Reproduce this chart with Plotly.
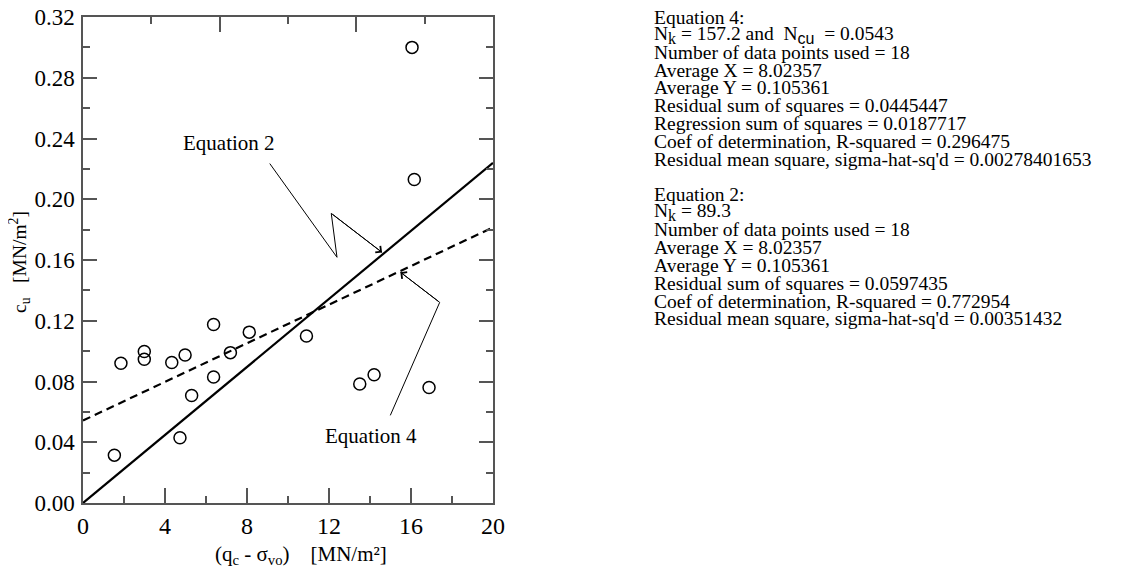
import plotly.graph_objects as go

# ---- data ----
x_vals = [1.53, 1.85, 2.99, 2.99, 4.33, 4.98, 4.73, 5.30, 6.37, 6.37, 7.19, 8.11,
          10.90, 13.50, 14.20, 16.88, 16.05, 16.16]
y_vals = [0.0315, 0.0920, 0.0998, 0.0946, 0.0925, 0.0975, 0.0430, 0.0708, 0.1175,
          0.0830, 0.0990, 0.1125, 0.1100, 0.0783, 0.0845, 0.0760, 0.3000, 0.2130]

eq2_x = [0, 20]
eq2_y = [0.0, 0.224]
eq4_x = [0, 20]
eq4_y = [0.0543, 0.1815]

x_ticks = [0, 4, 8, 12, 16, 20]
y_ticks = [0.00, 0.04, 0.08, 0.12, 0.16, 0.20, 0.24, 0.28, 0.32]

# callout leader lines (data coordinates) and labels
eq2_leader_x = [9.11, 12.39, 12.11]
eq2_leader_y = [0.2235, 0.1618, 0.1907]
eq2_tip = (14.59, 0.1650)
eq2_label = (7.1, 0.2373)

eq4_leader_x = [14.99, 17.40]
eq4_leader_y = [0.0577, 0.1321]
eq4_tip = (15.48, 0.1520)
eq4_label = (14.05, 0.0440)

x_title = "(q<sub>c</sub> - \u03c3<sub>vo</sub>)\u00a0\u00a0\u00a0\u00a0[MN/m\u00b2]"
y_title = "c<sub>u</sub>\u00a0\u00a0\u00a0[MN/m<sup>2</sup>]"

K = "<sub><span style='font-size:16px'>k</span></sub>"
CU = "<sub><span style='font-size:16px;font-family:Liberation Sans'>cu</span></sub>"
stats_lines = [
    "Equation 4:",
    "N" + K + " = 157.2 and \u00a0N" + CU + " \u00a0= 0.0543",
    "Number of data points used = 18",
    "Average X = 8.02357",
    "Average Y = 0.105361",
    "Residual sum of squares = 0.0445447",
    "Regression sum of squares = 0.0187717",
    "Coef of determination, R-squared = 0.296475",
    "Residual mean square, sigma-hat-sq'd = 0.00278401653",
    "",
    "Equation 2:",
    "N" + K + " = 89.3",
    "Number of data points used = 18",
    "Average X = 8.02357",
    "Average Y = 0.105361",
    "Residual sum of squares = 0.0597435",
    "Coef of determination, R-squared = 0.772954",
    "Residual mean square, sigma-hat-sq'd = 0.00351432",
]

# ---- layout geometry (page body has an 8px margin) ----
OFF = 8
W, H = 1146 - 2 * OFF, 575 - 2 * OFF
L, R, T, B = 83 - OFF, 493 - OFF, 17 - OFF, 503 - OFF
SERIF = "Liberation Serif, Times New Roman, serif"
AX = "#555555"


def px_to_paper(px, py):
    """absolute page pixel -> paper coordinates"""
    return (px - OFF - L) / (R - L), (B - (py - OFF)) / (B - T)


fig = go.Figure()

fig.add_trace(go.Scatter(x=eq2_x, y=eq2_y, mode="lines",
                         line=dict(color="black", width=2.2), showlegend=False,
                         hoverinfo="skip"))
fig.add_trace(go.Scatter(x=eq4_x, y=eq4_y, mode="lines",
                         line=dict(color="black", width=2.2, dash="8px,5px"),
                         showlegend=False, hoverinfo="skip"))
fig.add_trace(go.Scatter(x=x_vals, y=y_vals, mode="markers",
                         marker=dict(symbol="circle-open", size=12,
                                     color="black", line=dict(width=1.5)),
                         showlegend=False))
# leader lines
fig.add_trace(go.Scatter(x=eq2_leader_x + [eq2_tip[0]], y=eq2_leader_y + [eq2_tip[1]],
                         mode="lines", line=dict(color="black", width=1),
                         showlegend=False, hoverinfo="skip"))
fig.add_trace(go.Scatter(x=eq4_leader_x + [eq4_tip[0]], y=eq4_leader_y + [eq4_tip[1]],
                         mode="lines", line=dict(color="black", width=1),
                         showlegend=False, hoverinfo="skip"))
# invisible trace to hold top/right axes
fig.add_trace(go.Scatter(x=[0], y=[0], xaxis="x2", yaxis="y2", mode="markers",
                         marker=dict(opacity=0), showlegend=False, hoverinfo="skip"))

annotations = []
# arrowheads
for (lx, ly), (tx, ty) in [((eq2_leader_x[-1], eq2_leader_y[-1]), eq2_tip),
                           ((eq4_leader_x[-1], eq4_leader_y[-1]), eq4_tip)]:
    annotations.append(dict(x=tx, y=ty, ax=lx, ay=ly, xref="x", yref="y",
                            axref="x", ayref="y", text="", showarrow=True,
                            arrowhead=4, arrowsize=1.6, arrowwidth=1,
                            arrowcolor="black"))
annotations.append(dict(x=eq2_label[0], y=eq2_label[1], xref="x", yref="y",
                        text="Equation 2", showarrow=False,
                        font=dict(family=SERIF, size=21, color="black")))
annotations.append(dict(x=eq4_label[0], y=eq4_label[1], xref="x", yref="y",
                        text="Equation 4", showarrow=False,
                        font=dict(family=SERIF, size=21, color="black")))

# axis titles
tx, ty = px_to_paper(301, 555)
annotations.append(dict(x=tx, y=ty, xref="paper", yref="paper", text=x_title,
                        showarrow=False, xanchor="center", yanchor="middle",
                        font=dict(family=SERIF, size=21, color="black")))
tx, ty = px_to_paper(19, 262)
annotations.append(dict(x=tx, y=ty, xref="paper", yref="paper", text=y_title,
                        showarrow=False, xanchor="center", yanchor="middle",
                        textangle=-90,
                        font=dict(family=SERIF, size=19.5, color="black")))

# stats text block
for i, line in enumerate(stats_lines):
    if not line:
        continue
    px, py = px_to_paper(652, 17 + i * 17.75)
    annotations.append(dict(x=px, y=py, xref="paper", yref="paper",
                            xanchor="left", yanchor="middle", text=line,
                            showarrow=False,
                            font=dict(family=SERIF, size=19.5, color="black")))

axis_common = dict(showgrid=False, zeroline=False, showline=True, linecolor=AX,
                   linewidth=1.5, ticks="inside", tickcolor=AX, tickwidth=1.5,
                   automargin=False)

fig.update_layout(
    width=W, height=H,
    margin=dict(l=L, r=W - R, t=T, b=H - B, pad=0, autoexpand=False),
    paper_bgcolor="white", plot_bgcolor="white",
    font=dict(family=SERIF, color="black"),
    xaxis=dict(range=[0, 20], tickmode="array", tickvals=x_ticks,
               ticktext=[str(v) for v in x_ticks], ticklen=15,
               ticklabeloverflow="allow",
               minor=dict(ticks="inside", tickmode="linear", tick0=0, dtick=2,
                          ticklen=7, tickcolor=AX, tickwidth=1.5),
               tickfont=dict(family=SERIF, size=24, color="black"),
               **axis_common),
    yaxis=dict(range=[0, 0.32], tickmode="array", tickvals=y_ticks,
               ticktext=[f"{v:.2f}" for v in y_ticks], ticklen=14,
               ticklabelstandoff=2, ticklabeloverflow="allow",
               minor=dict(ticks="inside", tickmode="linear", tick0=0, dtick=0.02,
                          ticklen=7, tickcolor=AX, tickwidth=1.5),
               tickfont=dict(family=SERIF, size=23, color="black"),
               **axis_common),
    xaxis2=dict(overlaying="x", side="top", range=[0, 20], anchor="y",
                tickmode="linear", tick0=0, dtick=20 / 3, ticklen=15,
                showticklabels=False,
                minor=dict(ticks="inside", tickmode="linear", tick0=0, dtick=10 / 3,
                           ticklen=7, tickcolor=AX, tickwidth=1.5),
                **axis_common),
    yaxis2=dict(overlaying="y", side="right", range=[0, 0.32], anchor="x",
                tickmode="linear", tick0=0, dtick=0.04, ticklen=14,
                showticklabels=False,
                minor=dict(ticks="inside", tickmode="linear", tick0=0, dtick=0.02,
                           ticklen=7, tickcolor=AX, tickwidth=1.5),
                **axis_common),
    annotations=annotations,
    showlegend=False,
)

fig.write_html("out.html")
